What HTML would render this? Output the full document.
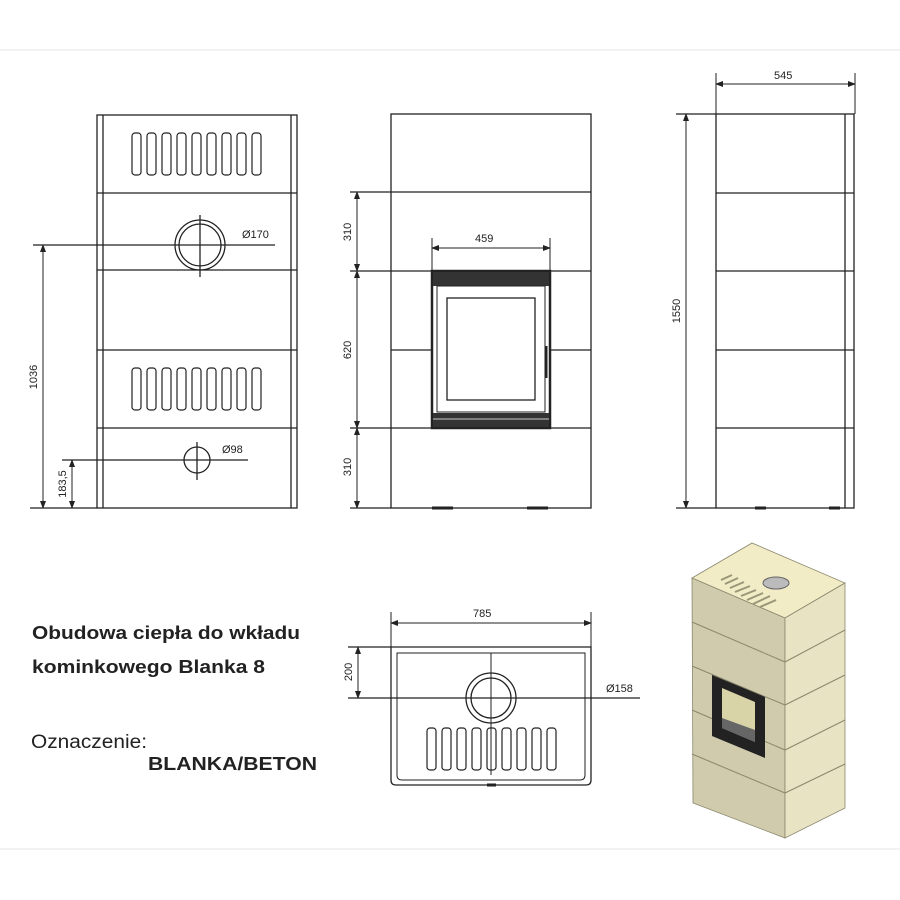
<!DOCTYPE html>
<html><head><meta charset="utf-8"><style>
html,body{margin:0;padding:0;background:#fff;}
svg{display:block;}
text{font-family:"Liberation Sans",sans-serif;fill:#222;}
</style></head><body>
<svg width="900" height="900" viewBox="0 0 900 900" xmlns="http://www.w3.org/2000/svg">
<defs>
<marker id="a" markerWidth="8" markerHeight="6" refX="7" refY="3" orient="auto-start-reverse" markerUnits="userSpaceOnUse"><path d="M0,0 L8,3 L0,6 z" fill="#222"/></marker>
<g id="vents">
<rect x="0" y="0" width="9" height="42" rx="3" fill="none" stroke="#222" stroke-width="1.2"/>
<rect x="15" y="0" width="9" height="42" rx="3" fill="none" stroke="#222" stroke-width="1.2"/>
<rect x="30" y="0" width="9" height="42" rx="3" fill="none" stroke="#222" stroke-width="1.2"/>
<rect x="45" y="0" width="9" height="42" rx="3" fill="none" stroke="#222" stroke-width="1.2"/>
<rect x="60" y="0" width="9" height="42" rx="3" fill="none" stroke="#222" stroke-width="1.2"/>
<rect x="75" y="0" width="9" height="42" rx="3" fill="none" stroke="#222" stroke-width="1.2"/>
<rect x="90" y="0" width="9" height="42" rx="3" fill="none" stroke="#222" stroke-width="1.2"/>
<rect x="105" y="0" width="9" height="42" rx="3" fill="none" stroke="#222" stroke-width="1.2"/>
<rect x="120" y="0" width="9" height="42" rx="3" fill="none" stroke="#222" stroke-width="1.2"/>
</g>
</defs>
<line x1="0" y1="50" x2="900" y2="50" stroke="#e4e4e4"/>
<line x1="0" y1="849" x2="900" y2="849" stroke="#e4e4e4"/>

<g stroke="#222" stroke-width="1.3" fill="none">
<rect x="97" y="115" width="200" height="393"/>
<line x1="103" y1="115" x2="103" y2="508"/>
<line x1="291" y1="115" x2="291" y2="508"/>
<line x1="97" y1="193" x2="297" y2="193"/>
<line x1="97" y1="270" x2="297" y2="270"/>
<line x1="97" y1="350" x2="297" y2="350"/>
<line x1="97" y1="428" x2="297" y2="428"/>
<circle cx="200" cy="245" r="25"/><circle cx="200" cy="245" r="21"/>
<line x1="200" y1="215" x2="200" y2="277"/>
<line x1="33" y1="245" x2="275" y2="245"/>
<circle cx="197" cy="460" r="13"/>
<line x1="197" y1="442" x2="197" y2="480"/>
<line x1="62" y1="460" x2="248" y2="460"/>
<line x1="30" y1="508" x2="97" y2="508"/>
<line x1="43" y1="245" x2="43" y2="508" marker-start="url(#a)" marker-end="url(#a)" stroke-width="1"/>
<line x1="72" y1="460" x2="72" y2="508" marker-start="url(#a)" marker-end="url(#a)" stroke-width="1"/>

<rect x="391" y="114" width="200" height="394"/>
<line x1="350" y1="192" x2="591" y2="192"/>
<line x1="350" y1="271" x2="591" y2="271"/>
<line x1="391" y1="350" x2="432" y2="350"/>
<line x1="550" y1="350" x2="591" y2="350"/>
<line x1="350" y1="428" x2="591" y2="428"/>
<line x1="350" y1="508" x2="391" y2="508"/>
<line x1="357" y1="192" x2="357" y2="271" marker-start="url(#a)" marker-end="url(#a)" stroke-width="1"/>
<line x1="357" y1="271" x2="357" y2="428" marker-start="url(#a)" marker-end="url(#a)" stroke-width="1"/>
<line x1="357" y1="428" x2="357" y2="508" marker-start="url(#a)" marker-end="url(#a)" stroke-width="1"/>
<line x1="432" y1="238" x2="432" y2="271" stroke-width="1"/>
<line x1="550" y1="238" x2="550" y2="271" stroke-width="1"/>
<line x1="432" y1="248" x2="550" y2="248" marker-start="url(#a)" marker-end="url(#a)" stroke-width="1"/>
<rect x="432" y="271" width="118" height="157" stroke-width="2.5"/>
<rect x="433" y="272" width="116" height="14" fill="#333" stroke="none"/>
<rect x="433" y="413" width="116" height="14" fill="#333" stroke="none"/>
<line x1="433" y1="419" x2="549" y2="419" stroke="#ccc" stroke-width="1"/>
<rect x="437" y="286" width="108" height="126" stroke-width="1"/>
<rect x="447" y="298" width="88" height="102"/>
<line x1="546" y1="346" x2="546" y2="378" stroke-width="3"/>
<line x1="432" y1="508" x2="453" y2="508" stroke-width="3"/>
<line x1="527" y1="508" x2="548" y2="508" stroke-width="3"/>

<rect x="716" y="114" width="138" height="394"/>
<line x1="845" y1="114" x2="845" y2="508"/>
<line x1="716" y1="193" x2="854" y2="193"/>
<line x1="716" y1="271" x2="854" y2="271"/>
<line x1="716" y1="350" x2="854" y2="350"/>
<line x1="716" y1="428" x2="854" y2="428"/>
<line x1="676" y1="114" x2="716" y2="114"/>
<line x1="676" y1="508" x2="716" y2="508"/>
<line x1="686" y1="114" x2="686" y2="508" marker-start="url(#a)" marker-end="url(#a)" stroke-width="1"/>
<line x1="716" y1="73" x2="716" y2="114" stroke-width="1"/>
<line x1="855" y1="73" x2="855" y2="114" stroke-width="1"/>
<line x1="716" y1="84" x2="855" y2="84" marker-start="url(#a)" marker-end="url(#a)" stroke-width="1"/>
<line x1="755" y1="508" x2="766" y2="508" stroke-width="3"/>
<line x1="829" y1="508" x2="840" y2="508" stroke-width="3"/>

<path d="M391,647 L591,647 L591,780 Q591,785 586,785 L396,785 Q391,785 391,780 Z"/>
<path d="M397,653 L585,653 L585,775 Q585,780 580,780 L402,780 Q397,780 397,775 Z" stroke-width="1"/>
<line x1="391" y1="612" x2="391" y2="647" stroke-width="1"/>
<line x1="591" y1="612" x2="591" y2="647" stroke-width="1"/>
<line x1="391" y1="623" x2="591" y2="623" marker-start="url(#a)" marker-end="url(#a)" stroke-width="1"/>
<line x1="348" y1="647" x2="391" y2="647"/>
<line x1="348" y1="698" x2="640" y2="698"/>
<line x1="358" y1="647" x2="358" y2="698" marker-start="url(#a)" marker-end="url(#a)" stroke-width="1"/>
<line x1="491" y1="653" x2="491" y2="775" stroke-width="1"/>
<circle cx="491" cy="698" r="25"/><circle cx="491" cy="698" r="20"/>
<line x1="487" y1="785" x2="496" y2="785" stroke-width="3"/>
</g>
<use href="#vents" x="132" y="133"/>
<use href="#vents" x="132" y="368"/>
<use href="#vents" x="427" y="728"/>

<g font-size="11">
<text x="242" y="238">Ø170</text>
<text x="222" y="453">Ø98</text>
<text x="475" y="242">459</text>
<text x="774" y="79">545</text>
<text x="473" y="617">785</text>
<text x="606" y="692">Ø158</text>
<text transform="translate(37,377) rotate(-90)" text-anchor="middle">1036</text>
<text transform="translate(66,484) rotate(-90)" text-anchor="middle">183,5</text>
<text transform="translate(351,232) rotate(-90)" text-anchor="middle">310</text>
<text transform="translate(351,350) rotate(-90)" text-anchor="middle">620</text>
<text transform="translate(351,467) rotate(-90)" text-anchor="middle">310</text>
<text transform="translate(680,311) rotate(-90)" text-anchor="middle">1550</text>
<text transform="translate(352,672) rotate(-90)" text-anchor="middle">200</text>
</g>

<text x="32" y="639" font-size="18" font-weight="bold" textLength="268" lengthAdjust="spacingAndGlyphs">Obudowa ciepła do wkładu</text>
<text x="32" y="673" font-size="18" font-weight="bold" textLength="233" lengthAdjust="spacingAndGlyphs">kominkowego Blanka 8</text>
<text x="31" y="748" font-size="19" textLength="116" lengthAdjust="spacingAndGlyphs">Oznaczenie:</text>
<text x="148" y="770" font-size="18" font-weight="bold" textLength="169" lengthAdjust="spacingAndGlyphs">BLANKA/BETON</text>

<g stroke="#8a876e" stroke-width="0.8">
<polygon points="692,578 752,543 845,583 785,618" fill="#f1ebc6"/>
<polygon points="692,578 785,618 785,838 693,803" fill="#cfcbac"/>
<polygon points="785,618 845,583 845,808 785,838" fill="#e8e3c2"/>
</g>
<g stroke="#8a876e" stroke-width="1" fill="none">
<line x1="692" y1="622" x2="785" y2="662"/><line x1="785" y1="662" x2="845" y2="630"/>
<line x1="692" y1="666" x2="785" y2="705"/><line x1="785" y1="705" x2="845" y2="675"/>
<line x1="692" y1="710" x2="785" y2="750"/><line x1="785" y1="750" x2="845" y2="720"/>
<line x1="692" y1="754" x2="785" y2="793"/><line x1="785" y1="793" x2="845" y2="764"/>
</g>
<polygon points="712,675 765,697 765,758 712,736" fill="#222"/>
<polygon points="722,688 755,702 755,742 722,728" fill="#d9d3a8"/>
<polygon points="722,718 755,730 755,742 722,728" fill="#666"/>
<ellipse cx="776" cy="583" rx="13" ry="6" fill="#bbb" stroke="#666"/>
<g stroke="#9a9678" stroke-width="2">
<line x1="721" y1="580" x2="732" y2="575"/><line x1="725" y1="584" x2="738" y2="578"/>
<line x1="730" y1="588" x2="744" y2="582"/><line x1="735" y1="592" x2="750" y2="586"/>
<line x1="741" y1="596" x2="756" y2="590"/><line x1="747" y1="600" x2="763" y2="593"/>
<line x1="753" y1="604" x2="770" y2="596"/><line x1="760" y1="607" x2="776" y2="600"/>
</g>
</svg>
</body></html>
